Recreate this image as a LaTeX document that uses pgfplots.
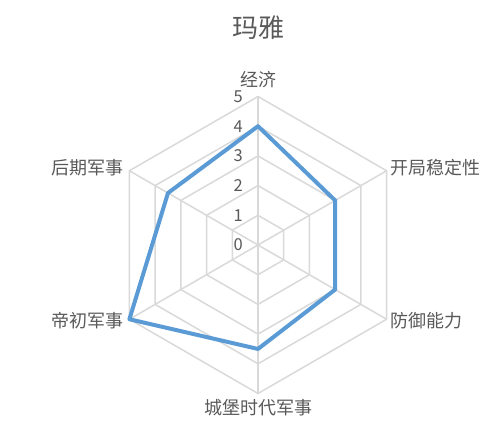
\documentclass[border=0pt]{standalone}
\usepackage{fontspec}
\setmainfont{Noto Sans CJK SC}
\usepackage{pgfplots}
\pgfplotsset{compat=1.18}
\usepgfplotslibrary{polar}
\definecolor{gridgray}{HTML}{D9D9D9}
\definecolor{txtgray}{HTML}{595959}
\definecolor{lineblue}{HTML}{5B9BD5}
\tikzset{
    cat/.style={text=txtgray, font=\fontsize{18}{20}\selectfont, inner sep=2pt},
    scl/.style={text=txtgray, font=\fontsize{16.5}{19}\selectfont, inner sep=2pt},
}
\begin{document}
\begin{tikzpicture}[x=1pt,y=1pt]
\path[use as bounding box] (0,0) rectangle (487,-435);
\node[text=txtgray,font=\fontsize{26}{30}\selectfont] at (258,-28) {玛雅};
\begin{polaraxis}[
    at={(258pt,-245pt)}, anchor=center,
    width=297pt, height=297pt, scale only axis,
    hide axis, clip=false,
    ymin=0, ymax=5,
]
    % hexagon rings
    \addplot[gridgray, line width=1.5pt] coordinates {(90,1)(30,1)(-30,1)(-90,1)(-150,1)(150,1)(90,1)};
    \addplot[gridgray, line width=1.5pt] coordinates {(90,2)(30,2)(-30,2)(-90,2)(-150,2)(150,2)(90,2)};
    \addplot[gridgray, line width=1.5pt] coordinates {(90,3)(30,3)(-30,3)(-90,3)(-150,3)(150,3)(90,3)};
    \addplot[gridgray, line width=1.5pt] coordinates {(90,4)(30,4)(-30,4)(-90,4)(-150,4)(150,4)(90,4)};
    \addplot[gridgray, line width=1.5pt] coordinates {(90,5)(30,5)(-30,5)(-90,5)(-150,5)(150,5)(90,5)};
    % spokes
    \addplot[gridgray, line width=1.5pt] coordinates {(90,5)(270,5)};
    \addplot[gridgray, line width=1.5pt] coordinates {(30,5)(210,5)};
    \addplot[gridgray, line width=1.5pt] coordinates {(150,5)(330,5)};
    % data
    \addplot[lineblue, line width=4pt, line join=round, line cap=round] coordinates {
        (90,4)(30,3)(-30,3)(-90,3.5)(-150,5)(150,3.5)(90,4)
    };
    % scale labels
    \node[scl, anchor=east] at (axis cs:90,0) [xshift=-13pt] {0};
    \node[scl, anchor=east] at (axis cs:90,1) [xshift=-13pt] {1};
    \node[scl, anchor=east] at (axis cs:90,2) [xshift=-13pt] {2};
    \node[scl, anchor=east] at (axis cs:90,3) [xshift=-13pt] {3};
    \node[scl, anchor=east] at (axis cs:90,4) [xshift=-13pt] {4};
    \node[scl, anchor=east] at (axis cs:90,5) [xshift=-13pt] {5};
    % category labels
    \node[cat, anchor=south] at (axis cs:90,5) [yshift=7pt] {经济};
    \node[cat, anchor=west] at (axis cs:30,5) [xshift=2pt, yshift=3pt] {开局稳定性};
    \node[cat, anchor=west] at (axis cs:-30,5) [xshift=2pt, yshift=-1pt] {防御能力};
    \node[cat, anchor=north] at (axis cs:-90,5) [yshift=-4pt] {城堡时代军事};
    \node[cat, anchor=east] at (axis cs:210,5) [xshift=-4pt, yshift=-1pt] {帝初军事};
    \node[cat, anchor=east] at (axis cs:150,5) [xshift=-4pt, yshift=3pt] {后期军事};
\end{polaraxis}
\end{tikzpicture}
\end{document}
